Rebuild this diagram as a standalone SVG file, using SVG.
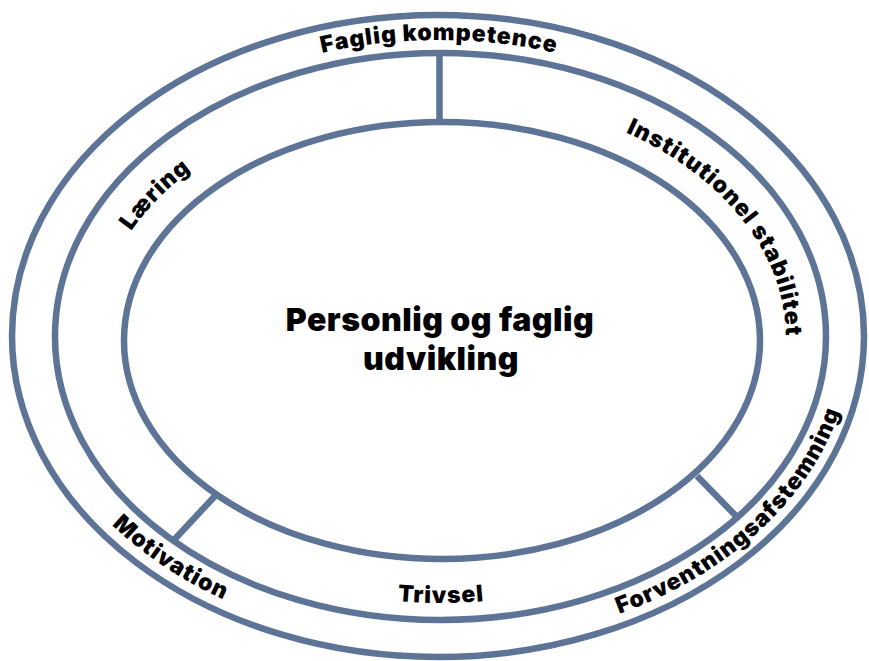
<svg xmlns="http://www.w3.org/2000/svg" width="869" height="661" viewBox="0 0 869 661">
<style>
.ring{fill:none;stroke:#5e7496;stroke-width:6.5}
.spoke{stroke:#5e7496;stroke-width:6.5;fill:none}
.lbl{font-family:Inter,"Open Sans","Liberation Sans",sans-serif;font-weight:900;font-size:23px;fill:#000;letter-spacing:1px}
.ctr{font-family:Inter,"Open Sans","Liberation Sans",sans-serif;font-weight:900;font-size:32px;fill:#000;letter-spacing:0.5px}
</style>
<defs>
<path id="pTop" d="M 39,336 A 400,296 0 0 1 839,336"/>
<path id="pMot" d="M 56.1,451.8 A 413,309 0 0 0 311.4,629.9"/>
<path id="pFor" d="M 550,633.6 A 413,309 0 0 0 852,340"/>
<path id="pInst" d="M 592.2,119.2 A 345,244 0 0 1 782.6,372.5"/>
<path id="pLaer" d="M 106.2,279.5 A 345,244 0 0 1 238.2,141.1"/>
<path id="pTriv" d="M 349.1,594 A 355,264.5 0 0 0 532.9,594"/>
</defs>
<rect width="869" height="661" fill="#fff"/>
<g id="outer-ring">
<ellipse class="ring" cx="438" cy="336" rx="426" ry="321"/>
</g>
<g id="middle-ring">
<ellipse class="ring" cx="440.5" cy="336.5" rx="385.5" ry="283.5"/>
</g>
<g id="inner-ring">
<ellipse class="ring" cx="442" cy="340.5" rx="318" ry="218.5"/>
</g>
<g id="connectors">
<line class="spoke" x1="439.5" y1="53" x2="439.5" y2="122"/>
<line class="spoke" x1="215" y1="496" x2="173" y2="541"/>
<line class="spoke" x1="697" y1="476" x2="739" y2="519"/>
</g>
<g id="center">
<text class="ctr" x="440" y="331" text-anchor="middle">Personlig og faglig</text>
<text class="ctr" x="441" y="370" text-anchor="middle">udvikling</text>
</g>
<g id="faglig-kompetence">
<text class="lbl" text-anchor="middle"><textPath href="#pTop" startOffset="50%">Faglig kompetence</textPath></text>
</g>
<g id="institutionel-stabilitet">
<text class="lbl" text-anchor="middle"><textPath href="#pInst" startOffset="50%">Institutionel stabilitet</textPath></text>
</g>
<g id="laering">
<text class="lbl" text-anchor="middle"><textPath href="#pLaer" startOffset="50%">Læring</textPath></text>
</g>
<g id="motivation">
<text class="lbl" text-anchor="middle"><textPath href="#pMot" startOffset="50%">Motivation</textPath></text>
</g>
<g id="trivsel">
<text class="lbl" text-anchor="middle"><textPath href="#pTriv" startOffset="50%">Trivsel</textPath></text>
</g>
<g id="forventningsafstemning">
<text class="lbl" text-anchor="middle"><textPath href="#pFor" startOffset="50%">Forventningsafstemning</textPath></text>
</g>
</svg>
